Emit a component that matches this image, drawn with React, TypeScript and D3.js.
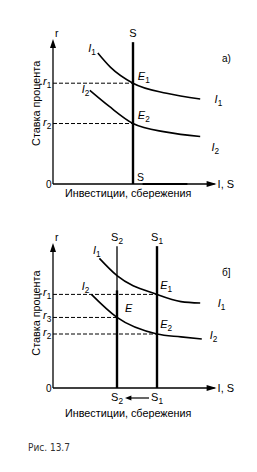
import * as d3 from "d3";

// model units: both axes 0..100
const topI1: [number, number][] = [[28, 91], [36, 81], [50, 70], [71, 63], [92, 59]];
const topI2: [number, number][] = [[23, 65], [35, 54], [50, 42], [71, 36], [92, 33]];
const topSupply = [{ sub: "", v: 50 }];
const topRates = [{ sub: "1", v: 70, to: 50 }, { sub: "2", v: 42, to: 50 }];

const botI1: [number, number][] = [[29, 90], [40, 78], [65, 65], [80, 60], [92, 59]];
const botI2: [number, number][] = [[24, 65], [40, 49], [65, 37.5], [80, 35.5], [93, 34]];
const botSupply = [{ sub: "2", v: 40 }, { sub: "1", v: 65 }];
const botRates = [
  { sub: "1", v: 65, to: 65 },
  { sub: "3", v: 49, to: 40 },
  { sub: "2", v: 37.5, to: 65 },
];

const font = "'Liberation Sans', Arial, sans-serif";

function Sub({ base, sub, x, y, italic = true, size = 11, anchor = "start" }: any) {
  return (
    <text x={x} y={y} fontFamily={font} fontSize={size} fontStyle={italic ? "italic" : "normal"} textAnchor={anchor}>
      {base}
      {sub && (
        <tspan fontSize={size * 0.75} dy={3} fontStyle="normal">
          {sub}
        </tspan>
      )}
    </text>
  );
}

function Panel({ top, i1, i2, supply, rates, mark, curveLabels, pointLabels, bottomS, xLabelDy, yLabelAt }: any) {
  const x = d3.scaleLinear([0, 100], [53, 213]);
  const y = d3.scaleLinear([0, 100], [top + 144, top]);
  const line = d3
    .line<[number, number]>()
    .x((d) => x(d[0]))
    .y((d) => y(d[1]))
    .curve(d3.curveMonotoneX);
  const x0 = x(0);
  const y0 = y(0);
  return (
    <g>
      {/* axes */}
      <line x1={x0} y1={y0} x2={x0} y2={y(100) + 2} stroke="#000" strokeWidth={1.3} />
      <path d={`M${x0 - 3},${y(100) + 8}L${x0},${y(100) - 1}L${x0 + 3},${y(100) + 8}Z`} fill="#000" />
      <line x1={x0} y1={y0} x2={x(101)} y2={y0} stroke="#000" strokeWidth={1.3} />
      <path d={`M${x(101) - 8},${y0 - 3}L${x(101) + 2},${y0}L${x(101) - 8},${y0 + 3}Z`} fill="#000" />
      <text x={x0 + 2} y={y(100) - 3} fontFamily={font} fontSize={10.5}>r</text>
      <text x={x(101) + 3} y={y0 + 4} fontFamily={font} fontSize={11}>I, S</text>
      <text x={x0 - 7} y={y0 + 4} fontFamily={font} fontSize={10}>0</text>
      <text
        transform={`translate(${x0 - 13},${y(yLabelAt)}) rotate(-90)`}
        textAnchor="middle"
        fontFamily={font}
        fontSize={10.8}
      >
        Ставка процента
      </text>
      <text x={x(47)} y={y0 + xLabelDy} textAnchor="middle" fontFamily={font} fontSize={10.8}>
        Инвестиции, сбережения
      </text>

      {/* dashed rate levels */}
      {rates.map((r: any) => (
        <g key={r.sub}>
          <line x1={x0} y1={y(r.v)} x2={x(r.to)} y2={y(r.v)} stroke="#000" strokeWidth={1} strokeDasharray="4,2" />
          <Sub base="r" sub={r.sub} x={x0 - 10} y={y(r.v) + 2} />
        </g>
      ))}

      {/* supply lines */}
      {supply.map((s: any) => (
        <g key={s.sub}>
          <line x1={x(s.v)} y1={y(98.5)} x2={x(s.v)} y2={y0} stroke="#000" strokeWidth={s.sub === "2" ? 1.3 : 2.4} />
          {s.sub === "2" && (
            <line x1={x(s.v)} y1={y(rates[0].v) - 4} x2={x(s.v)} y2={y0} stroke="#000" strokeWidth={2.4} />
          )}
          <Sub base="S" sub={s.sub} x={x(s.v)} y={y(98.5) - 5} italic={false} anchor="middle" />
        </g>
      ))}

      {/* investment curves */}
      <path d={line(i1) ?? ""} fill="none" stroke="#000" strokeWidth={1.6} />
      <path d={line(i2) ?? ""} fill="none" stroke="#000" strokeWidth={1.6} />

      {curveLabels.map((l: any, k: number) => (
        <Sub key={k} base="I" sub={l.sub} x={x(l.at[0])} y={y(l.at[1])} />
      ))}
      {pointLabels.map((l: any, k: number) => (
        <Sub key={k} base="E" sub={l.sub} x={x(l.at[0])} y={y(l.at[1])} />
      ))}
      {bottomS}
      <text x={222} y={top + (mark === "а)" ? 22 : 32)} fontFamily={font} fontSize={10}>
        {mark}
      </text>
    </g>
  );
}

export default function App() {
  const xb = d3.scaleLinear([0, 100], [53, 213]);
  const yb = 388;
  return (
    <svg width={257} height={472} style={{ position: "absolute", left: 0, top: 0, background: "#fff" }}>
      <Panel
        top={40}
        i1={topI1}
        i2={topI2}
        supply={topSupply}
        rates={topRates}
        mark="а)"
        xLabelDy={13}
        yLabelAt={56}
        curveLabels={[
          { sub: "1", at: [22, 92] },
          { sub: "1", at: [101, 56] },
          { sub: "2", at: [18, 63] },
          { sub: "2", at: [99, 23] },
        ]}
        pointLabels={[
          { sub: "1", at: [53, 72] },
          { sub: "2", at: [53, 45] },
        ]}
        bottomS={
          <g>
            <text x={xb(50) + 4} y={181} fontFamily={font} fontSize={10.5}>S</text>
            <line x1={xb(56)} y1={184} x2={xb(84)} y2={184} stroke="#000" strokeWidth={2.2} />
          </g>
        }
      />
      <Panel
        top={244}
        i1={botI1}
        i2={botI2}
        supply={botSupply}
        rates={botRates}
        mark="б]"
        xLabelDy={29}
        yLabelAt={52}
        curveLabels={[
          { sub: "1", at: [25, 93] },
          { sub: "1", at: [103, 56] },
          { sub: "2", at: [18, 68] },
          { sub: "2", at: [98, 34] },
        ]}
        pointLabels={[
          { sub: "1", at: [67, 69] },
          { sub: "", at: [45, 53] },
          { sub: "2", at: [67, 42] },
        ]}
        bottomS={
          <g>
            {botSupply.map((s) => (
              <Sub key={s.sub} base="S" sub={s.sub} x={xb(s.v)} y={yb + 13} italic={false} anchor="middle" />
            ))}
            <line x1={xb(60)} y1={yb + 10} x2={xb(47)} y2={yb + 10} stroke="#000" strokeWidth={1.2} />
            <path d={`M${xb(45)},${yb + 10}L${xb(49)},${yb + 7.5}L${xb(49)},${yb + 12.5}Z`} fill="#000" />
          </g>
        }
      />
      <text x={28} y={451} fontFamily="'DejaVu Sans Condensed', 'DejaVu Sans', sans-serif" fontSize={10} fill="#333">
        Рис. 13.7
      </text>
    </svg>
  );
}
